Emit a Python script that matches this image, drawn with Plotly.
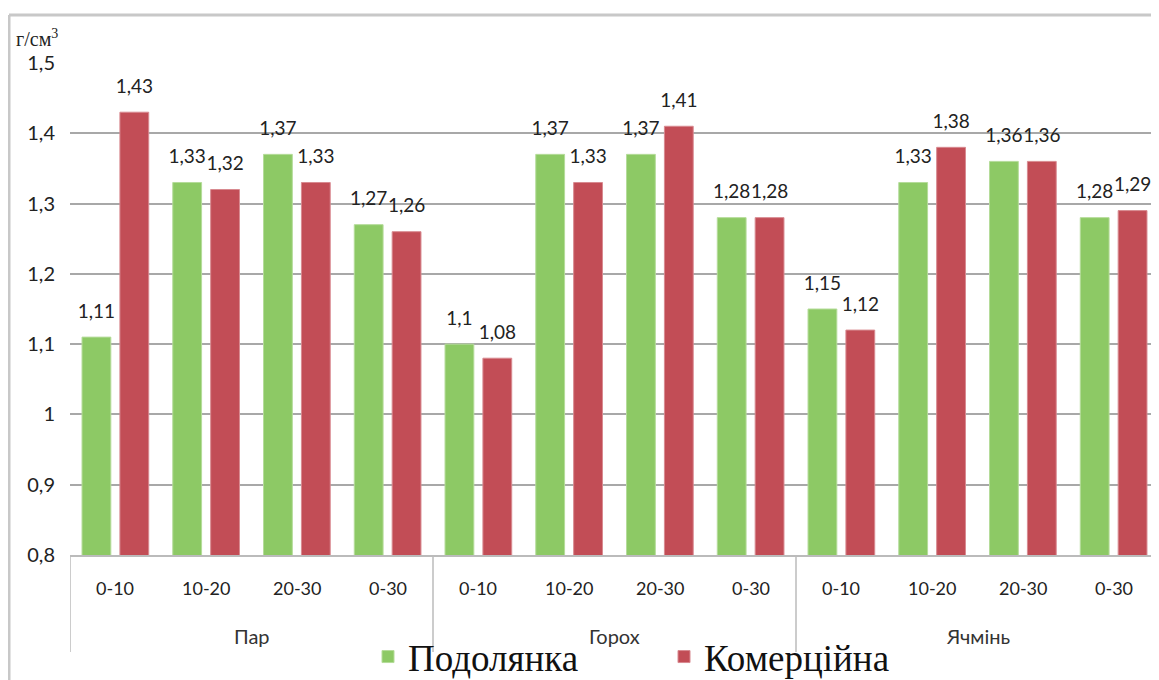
import plotly.graph_objects as go

crops = ["Пар"] * 4 + ["Горох"] * 4 + ["Ячмінь"] * 4
layers = ["0-10", "10-20", "20-30", "0-30"] * 3
podolyanka = [1.11, 1.33, 1.37, 1.27, 1.10, 1.37, 1.37, 1.28, 1.15, 1.33, 1.36, 1.28]
komertsiyna = [1.43, 1.32, 1.33, 1.26, 1.08, 1.33, 1.41, 1.28, 1.12, 1.38, 1.36, 1.29]
y_ticks = [0.8, 0.9, 1.0, 1.1, 1.2, 1.3, 1.4, 1.5]


def lab(v):
    return f"{v:g}".replace(".", ",")


cats = [f"{c} {l}" for c, l in zip(crops, layers)]
groups = list(dict.fromkeys(crops))

# the page body adds an 8px offset; work in page pixels and convert
O = 8
W, H = 1159 - O, 680 - O
PL, PT, PB = 70, 63, 555          # plot area in page pixels
L, T = PL - O, PT - O
B = H - (PB - O)
R = 0
pw = W - L - R
ph = H - T - B


def py(y_page):
    """page pixel y -> paper fraction"""
    return (PB - y_page) / ph


def px(x_page):
    return (x_page - PL) / pw


SANS = "Lato, Open Sans, sans-serif"
SERIF = "Liberation Serif, Times New Roman, serif"
label_font = dict(family=SANS, size=19, color="#222222")
GAP = 0.165

series = [
    ("Подолянка", podolyanka, "#8dc965", "#b5dc9a", "g1"),
    ("Комерційна", komertsiyna, "#c24d56", "#d88a90", "g2"),
]

fig = go.Figure()
for name, vals, col, edge, grp in series:
    fig.add_bar(x=cats, y=vals, name=name, marker_color=col,
                marker_line=dict(color=edge, width=1), offsetgroup=grp)
for name, vals, col, edge, grp in series:
    fig.add_scatter(x=cats, y=vals, mode="markers+text", text=[lab(v) for v in vals],
                    textposition="top center", textfont=label_font, cliponaxis=False,
                    marker=dict(size=22, opacity=0), offsetgroup=grp,
                    showlegend=False, hoverinfo="skip")

fig.update_layout(
    width=W, height=H,
    margin=dict(l=L, r=R, t=T, b=B, autoexpand=False),
    paper_bgcolor="white", plot_bgcolor="white",
    separators=", ",
    barmode="group", bargap=GAP, bargroupgap=0.24,
    scattermode="group", scattergap=GAP,
    showlegend=True,
    legend=dict(orientation="h", x=px(368), xanchor="left",
                y=py(657), yanchor="middle",
                font=dict(family=SERIF, size=37, color="#111111"),
                entrywidth=251, entrywidthmode="pixels",
                bgcolor="rgba(0,0,0,0)", traceorder="normal"),
    xaxis=dict(type="category", showline=True, linecolor="#bbbbbb", linewidth=1.5,
               showticklabels=False, ticks="", range=[-0.5, len(cats) - 0.5],
               automargin=False, showgrid=False),
    yaxis=dict(range=[0.8, 1.5], tickvals=y_ticks, showgrid=True, gridcolor="#a8a8a8",
               gridwidth=2, zeroline=False, showline=False, ticks="",
               tickfont=dict(family=SANS, size=20, color="#222222"),
               ticklabelstandoff=14, automargin=False),
)

# category (layer) labels
for i, l in enumerate(layers):
    fig.add_annotation(text=l, xref="x", yref="paper", x=i, y=py(588),
                       yanchor="middle", showarrow=False,
                       font=dict(family=SANS, size=18, color="#222222"))

# group labels and dividers
for g in groups:
    idx = [i for i, c in enumerate(crops) if c == g]
    fig.add_annotation(text=g, xref="x", yref="paper", x=sum(idx) / len(idx),
                       y=py(636), yanchor="middle", showarrow=False,
                       font=dict(family=SANS, size=20, color="#333333"))
    fig.add_shape(type="line", xref="x", yref="paper", x0=idx[0] - 0.5, x1=idx[0] - 0.5,
                  y0=0, y1=py(652), line=dict(color="#bbbbbb", width=1.5))

fig.add_annotation(text="г/см<sup>3</sup>", xref="paper", yref="paper",
                   x=px(14), y=py(38), xanchor="left", yanchor="middle",
                   showarrow=False, font=dict(family=SERIF, size=20, color="#222222"))

# outer chart frame (top and left)
fig.add_shape(type="line", xref="paper", yref="paper",
              x0=px(9), x1=1.0, y0=py(15), y1=py(15),
              line=dict(color="#c8c8c8", width=3))
fig.add_shape(type="line", xref="paper", yref="paper",
              x0=px(9), x1=px(9), y0=py(15), y1=py(680),
              line=dict(color="#c8c8c8", width=3))

fig.write_html("out.html")
